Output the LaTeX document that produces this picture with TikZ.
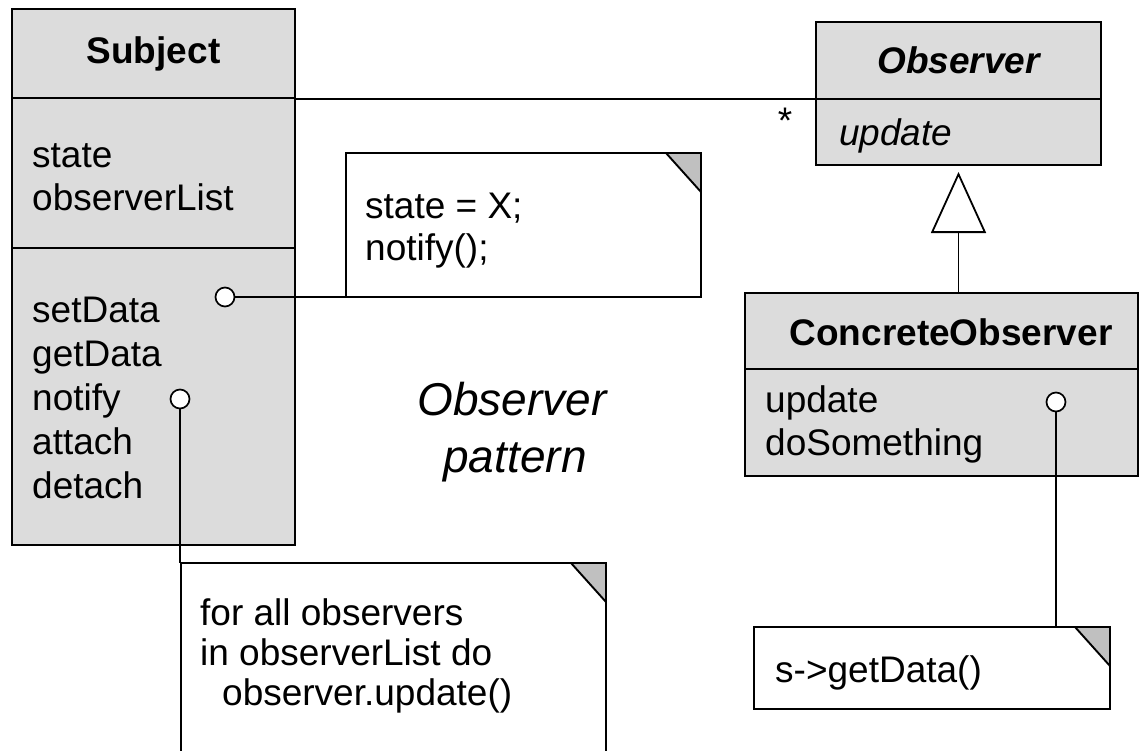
\documentclass[tikz,border=0pt]{standalone}
\usepackage{fontspec}
\setmainfont{Liberation Sans}
\usetikzlibrary{arrows.meta}
\definecolor{boxgray}{RGB}{220,220,220}
\definecolor{foldgray}{RGB}{192,192,192}
\tikzset{
  compart/.style={draw, line width=2.2pt, fill=boxgray, anchor=north west, inner sep=0pt, outer sep=0pt,
    font=\fontsize{37}{44}\selectfont\bfseries},
  notebox/.style={draw, line width=1.9pt, fill=white, anchor=north west, inner sep=0pt, outer sep=0pt},
  txt/.style={anchor=base west, inner sep=0pt, font=\fontsize{37}{44}\selectfont},
  pin/.style={draw, circle, fill=white, line width=1.7pt, minimum size=19pt, inner sep=0pt, outer sep=0pt},
  link/.style={line width=1.8pt},
}
\newcommand{\notefold}[1]{\filldraw[fill=foldgray, line width=1.9pt, line join=miter]
  ([xshift=-35pt]#1.north east) -- (#1.north east) -- ([yshift=-39pt]#1.north east) -- cycle;}
\begin{document}
\begin{tikzpicture}[x=1pt, y=-1pt]
  \useasboundingbox (0,0) rectangle (1141,750);

  %Subject
  \node[compart, minimum width=283pt, minimum height=89pt] (subjhead) at (12,9) {Subject};
  \node[compart, minimum width=283pt, minimum height=150pt] (subjattr) at (12,98) {};
  \node[compart, minimum width=283pt, minimum height=297pt] (subjops) at (12,248) {};

  \node[txt] (state) at (32,167) {state};
  \node[txt] (obslist) at (32,210) {observerList};

  \node[txt] (setdata) at (32,322) {setData};
  \node[txt] (getdata) at (32,366) {getData};
  \node[txt] (notify) at (32,410) {notify};
  \node[txt] (attach) at (32,454) {attach};
  \node[txt] (detach) at (32,498) {detach};

  %Observer
  \node[compart, minimum width=285pt, minimum height=77pt, font=\fontsize{37}{44}\selectfont\bfseries\itshape] (obshead) at (816,22) {Observer};
  \node[compart, minimum width=285pt, minimum height=66pt] (obsops) at (816,99) {};

  \node[txt, font=\fontsize{37}{44}\selectfont\itshape] (absupdate) at (839,145) {update};

  %ConcreteObserver
  \node[compart, minimum width=393pt, minimum height=76pt] (cohead) at (745,293) {};
  \node[txt, anchor=base, font=\fontsize{37}{44}\selectfont\bfseries] (coname) at (951,345) {ConcreteObserver};
  \node[compart, minimum width=393pt, minimum height=107pt] (coops) at (745,369) {};

  \node[txt] (coupdate) at (765,412) {update};
  \node[txt] (dosomething) at (765,455) {doSomething};

  %association and inheritance
  \draw[link] (obshead.south west) -- (obshead.south west -| subjhead.east);
  \node[txt, anchor=base] (mult) at (785,133) {*};

  \draw[link, -{Triangle[open, length=61pt, width=55pt]}] (obsops.south |- cohead.north) -- ([yshift=-7pt]obsops.south);

  %notes
  \node[notebox, minimum width=355pt, minimum height=144pt] (note1) at (346,153) {};
  \notefold{note1}
  \node[txt] (assign) at (365,218) {state = X;};
  \node[txt] (callnotify) at (365,260) {notify();};

  \node[notebox, minimum width=425pt, minimum height=200pt] (note2) at (181,563) {};
  \notefold{note2}
  \node[txt] (forall) at (200,625) {for all observers};
  \node[txt] (inlist) at (200,665) {in observerList do};
  \node[txt] (callupdate) at (222,705) {observer.update()};

  \node[notebox, minimum width=356pt, minimum height=82pt] (note3) at (754,627) {};
  \notefold{note3}
  \node[txt] (getcall) at (775,682) {s->getData()};

  %pins
  \node[pin] (setpin) at (225,297) {};
  \draw[link] (setpin.east) -- (setpin.east -| note1.west);

  \node[pin] (notifypin) at (180,399) {};
  \draw[link] (notifypin.south) -- (notifypin.south |- note2.north);

  \node[pin] (updatepin) at (1056,402) {};
  \draw[link] (updatepin.south) -- (updatepin.south |- note3.north);

  %title
  \node[txt, anchor=base, font=\fontsize{46}{57}\selectfont\itshape] (title1) at (512,415) {Observer};
  \node[txt, anchor=base, font=\fontsize{46}{57}\selectfont\itshape] (title2) at (515,472) {pattern};
\end{tikzpicture}
\end{document}
